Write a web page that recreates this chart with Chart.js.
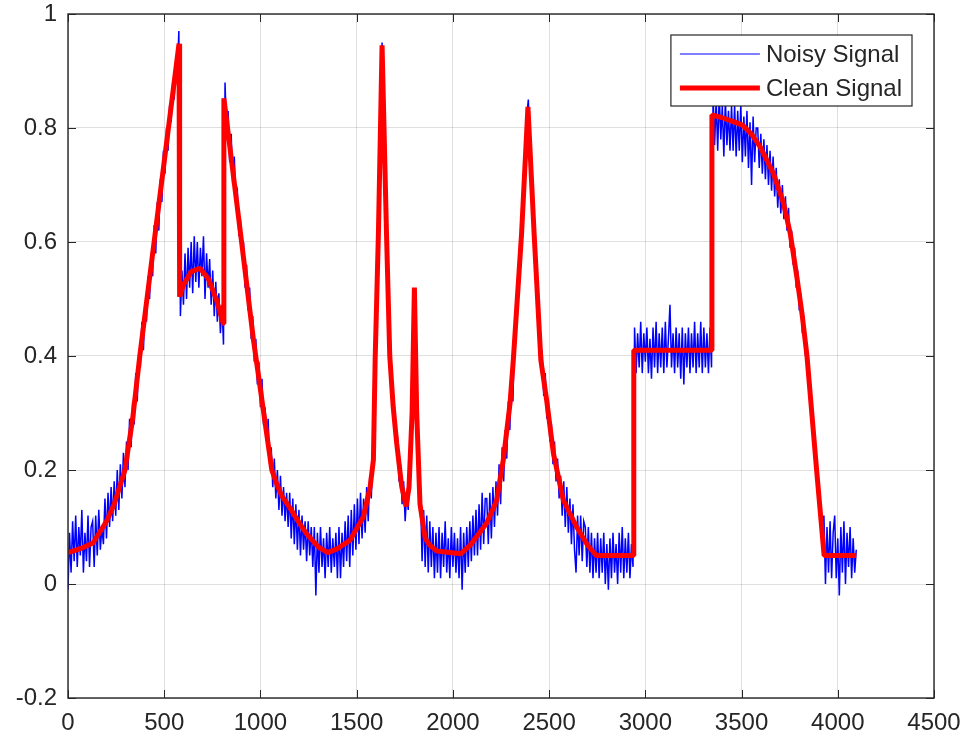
<!DOCTYPE html>
<html>
<head>
<meta charset="utf-8">
<title>Noisy vs Clean Signal</title>
<script src="https://cdn.jsdelivr.net/npm/chart.js@4/dist/chart.umd.min.js"></script>
<style>
  html, body { margin: 0; padding: 0; background: #fff; }
  #wrap { width: 967px; height: 741px; }
</style>
</head>
<body>
<div id="wrap"><canvas id="myChart" width="967" height="741"></canvas></div>
<script>
/* tick labels */
const xTickValues = [0, 500, 1000, 1500, 2000, 2500, 3000, 3500, 4000, 4500];
const yTickValues = [-0.2, 0, 0.2, 0.4, 0.6, 0.8, 1];

/* clean signal, knots */
const cleanX = [0, 64, 130, 200, 240, 296, 336, 373, 577, 580, 600, 640, 686, 730, 770, 807, 810,
  902, 963, 1015, 1059, 1085, 1110, 1154, 1200, 1240, 1300, 1350, 1400, 1466, 1535, 1570, 1587, 1596, 1613,
  1632, 1655, 1672, 1690, 1708, 1734, 1757, 1772, 1788, 1800, 1812, 1829, 1856, 1880, 1916, 2040, 2090,
  2176, 2228, 2262, 2297, 2314, 2357, 2390, 2422, 2457, 2487, 2522, 2574, 2643, 2700, 2745, 2938,
  2940, 3342, 3346, 3400, 3450, 3505, 3550, 3597, 3666, 3718, 3753, 3788, 3815, 3840, 3890, 3929, 4096];
const cleanY = [0.055, 0.062, 0.072, 0.11, 0.14, 0.20, 0.29, 0.40, 0.948, 0.504, 0.525, 0.548, 0.554, 0.535, 0.50, 0.457, 0.852,
  0.60, 0.43, 0.305, 0.20, 0.175, 0.155, 0.133, 0.108, 0.088, 0.065, 0.055, 0.062, 0.077, 0.118, 0.17, 0.218, 0.393, 0.615,
  0.945, 0.615, 0.40, 0.31, 0.247, 0.171, 0.136, 0.17, 0.30, 0.52, 0.30, 0.14, 0.08, 0.068, 0.058, 0.053, 0.068,
  0.107, 0.147, 0.218, 0.317, 0.393, 0.615, 0.837, 0.615, 0.393, 0.323, 0.23, 0.147, 0.10, 0.068, 0.05, 0.05,
  0.41, 0.41, 0.823, 0.818, 0.812, 0.805, 0.79, 0.767, 0.72, 0.668, 0.615, 0.537, 0.472, 0.40, 0.20, 0.05, 0.05];

/* noisy signal, one value every 8 samples (16 per row = 128 samples) */
const noisyStep = 8;
const noisyY = [
  -0.01, 0.09, 0.02, 0.11, 0.04, 0.12, 0.03, 0.10, 0.05, 0.13, 0.02, 0.09, 0.04, 0.12, 0.03, 0.10,
  0.11, 0.03, 0.12, 0.05, 0.13, 0.06, 0.10, 0.07, 0.15, 0.08, 0.16, 0.10, 0.17, 0.11, 0.18, 0.12,
  0.20, 0.13, 0.21, 0.15, 0.23, 0.17, 0.25, 0.20, 0.29, 0.24, 0.32, 0.28, 0.37, 0.32, 0.41, 0.38,
  0.46, 0.41, 0.49, 0.46, 0.54, 0.50, 0.58, 0.54, 0.63, 0.58, 0.67, 0.62, 0.71, 0.67, 0.76, 0.72,
  0.80, 0.76, 0.84, 0.81, 0.88, 0.85, 0.92, 0.89, 0.97, 0.47, 0.55, 0.49, 0.58, 0.50, 0.59, 0.52,
  0.60, 0.51, 0.61, 0.53, 0.60, 0.52, 0.59, 0.54, 0.61, 0.50, 0.58, 0.52, 0.57, 0.49, 0.55, 0.47,
  0.53, 0.46, 0.51, 0.44, 0.49, 0.42, 0.88, 0.79, 0.83, 0.74, 0.79, 0.70, 0.75, 0.68, 0.69, 0.61,
  0.64, 0.58, 0.60, 0.52, 0.56, 0.48, 0.52, 0.43, 0.47, 0.39, 0.43, 0.35, 0.39, 0.31, 0.36, 0.28,
  0.31, 0.25, 0.29, 0.21, 0.24, 0.17, 0.22, 0.15, 0.20, 0.13, 0.19, 0.12, 0.17, 0.11, 0.16, 0.10,
  0.16, 0.08, 0.15, 0.07, 0.14, 0.06, 0.13, 0.05, 0.12, 0.06, 0.11, 0.04, 0.11, 0.05, 0.10, 0.03,
  0.10, -0.02, 0.09, 0.02, 0.10, 0.03, 0.08, 0.01, 0.09, 0.03, 0.10, 0.02, 0.08, 0.03, 0.09, 0.01,
  0.10, 0.01, 0.09, 0.03, 0.11, 0.04, 0.12, 0.03, 0.13, 0.05, 0.14, 0.06, 0.15, 0.07, 0.16, 0.08,
  0.15, 0.09, 0.17, 0.11, 0.19, 0.15, 0.23, 0.30, 0.45, 0.53, 0.67, 0.80, 0.95, 0.79, 0.71, 0.58,
  0.52, 0.39, 0.38, 0.30, 0.31, 0.24, 0.26, 0.18, 0.21, 0.14, 0.18, 0.11, 0.16, 0.13, 0.21, 0.26,
  0.38, 0.51, 0.36, 0.26, 0.16, 0.15, 0.04, 0.13, 0.03, 0.12, 0.02, 0.11, 0.03, 0.10, 0.01, 0.09,
  0.02, 0.10, 0.01, 0.09, 0.03, 0.11, 0.02, 0.08, 0.01, 0.10, 0.03, 0.09, 0.02, 0.08, 0.01, 0.10,
  -0.01, 0.09, 0.02, 0.10, 0.03, 0.11, 0.04, 0.12, 0.05, 0.13, 0.05, 0.14, 0.06, 0.16, 0.07, 0.15,
  0.15, 0.07, 0.16, 0.08, 0.17, 0.10, 0.18, 0.12, 0.21, 0.14, 0.24, 0.18, 0.27, 0.22, 0.32, 0.27,
  0.37, 0.32, 0.44, 0.43, 0.52, 0.52, 0.61, 0.62, 0.71, 0.73, 0.82, 0.85, 0.76, 0.73, 0.65, 0.60,
  0.57, 0.50, 0.48, 0.38, 0.41, 0.33, 0.37, 0.29, 0.32, 0.25, 0.28, 0.21, 0.25, 0.18, 0.22, 0.15,
  0.19, 0.12, 0.18, 0.10, 0.17, 0.09, 0.15, 0.07, 0.14, 0.06, 0.02, 0.12, 0.05, 0.12, 0.04, 0.11,
  0.10, 0.03, 0.10, 0.02, 0.09, 0.01, 0.08, 0.02, 0.09, 0.01, 0.08, 0.02, 0.09, 0.00, 0.07, -0.01,
  0.08, 0.01, 0.09, 0.02, 0.07, 0.00, 0.09, 0.02, 0.10, 0.01, 0.08, 0.02, 0.09, 0.01, 0.07, 0.03,
  0.45, 0.37, 0.44, 0.38, 0.46, 0.37, 0.44, 0.39, 0.45, 0.37, 0.43, 0.36, 0.45, 0.38, 0.46, 0.37,
  0.44, 0.38, 0.45, 0.37, 0.46, 0.38, 0.43, 0.49, 0.38, 0.44, 0.37, 0.45, 0.38, 0.44, 0.36, 0.45,
  0.35, 0.44, 0.38, 0.45, 0.37, 0.44, 0.38, 0.46, 0.37, 0.44, 0.38, 0.46, 0.37, 0.45, 0.38, 0.44,
  0.37, 0.45, 0.38, 0.86, 0.77, 0.85, 0.76, 0.86, 0.78, 0.84, 0.75, 0.85, 0.77, 0.83, 0.76, 0.84,
  0.76, 0.84, 0.75, 0.83, 0.76, 0.84, 0.74, 0.82, 0.75, 0.83, 0.73, 0.81, 0.70, 0.82, 0.74, 0.80,
  0.80, 0.73, 0.79, 0.72, 0.78, 0.71, 0.77, 0.70, 0.76, 0.69, 0.75, 0.68, 0.73, 0.66, 0.71, 0.65,
  0.70, 0.64, 0.68, 0.62, 0.66, 0.59, 0.62, 0.56, 0.59, 0.52, 0.55, 0.48, 0.51, 0.44, 0.47, 0.40,
  0.42, 0.35, 0.35, 0.29, 0.29, 0.22, 0.22, 0.16, 0.16, 0.10, 0.10, 0.12, 0.00, 0.10, 0.02, 0.11,
  0.01, 0.09, 0.12, 0.01, 0.08, -0.02, 0.10, 0.02, 0.11, 0.00, 0.09, 0.03, 0.10, 0.01, 0.08, 0.02,
  0.06
];

const FONT = '"Liberation Sans", Arial, Helvetica, sans-serif';
const TEXT = '#262626';

/* box, inward ticks and legend like a matlab axes */
const matlabFrame = {
  id: 'matlabFrame',
  afterDraw: function(chart) {
    const ctx = chart.ctx;
    const a = chart.chartArea;
    const sx = chart.scales.x;
    const sy = chart.scales.y;
    const tick = 8;

    ctx.save();
    ctx.strokeStyle = TEXT;
    ctx.lineWidth = 1.4;
    ctx.strokeRect(a.left, a.top, a.right - a.left, a.bottom - a.top);

    ctx.beginPath();
    sx.ticks.forEach(function(t) {
      const px = Math.round(sx.getPixelForValue(t.value)) + 0.5;
      ctx.moveTo(px, a.bottom); ctx.lineTo(px, a.bottom - tick);
      ctx.moveTo(px, a.top); ctx.lineTo(px, a.top + tick);
    });
    sy.ticks.forEach(function(t) {
      const py = Math.round(sy.getPixelForValue(t.value)) + 0.5;
      ctx.moveTo(a.left, py); ctx.lineTo(a.left + tick, py);
      ctx.moveTo(a.right, py); ctx.lineTo(a.right - tick, py);
    });
    ctx.lineWidth = 1;
    ctx.stroke();

    // legend
    ctx.font = '24px ' + FONT;
    const sets = chart.data.datasets;
    let textW = 0;
    sets.forEach(function(ds) { textW = Math.max(textW, ctx.measureText(ds.label).width); });
    const sample = 80;
    const boxW = 9 + sample + 6 + textW + 10;
    const boxH = 71;
    const bx = a.right - 22 - boxW;
    const by = a.top + 21;
    ctx.fillStyle = '#fff';
    ctx.fillRect(bx, by, boxW, boxH);
    ctx.strokeStyle = TEXT;
    ctx.lineWidth = 1.2;
    ctx.strokeRect(bx, by, boxW, boxH);

    const rows = [19, 53];
    const order = [1, 0];
    order.forEach(function(idx, r) {
      const ds = sets[idx];
      const ly = by + rows[r];
      ctx.beginPath();
      ctx.strokeStyle = ds.borderColor;
      ctx.lineWidth = idx === 0 ? ds.borderWidth : 1.2;
      ctx.moveTo(bx + 9, ly);
      ctx.lineTo(bx + 9 + sample, ly);
      ctx.stroke();
      ctx.fillStyle = TEXT;
      ctx.textBaseline = 'middle';
      ctx.textAlign = 'left';
      ctx.fillText(ds.label, bx + 9 + sample + 6, ly + 1);
    });
    ctx.restore();
  }
};

function makeChart() {
  const ctx = document.getElementById('myChart').getContext('2d');

  const cleanPts = cleanX.map(function(x, i) { return { x: x, y: cleanY[i] }; });
  const noisyPts = noisyY.map(function(y, i) { return { x: i * noisyStep, y: y }; });

  return new Chart(ctx, {
    type: 'line',
    data: {
      datasets: [{
        label: 'Clean Signal',
        data: cleanPts,
        borderColor: '#ff0000',
        borderWidth: 5,
        borderJoinStyle: 'bevel',
        pointRadius: 0,
        tension: 0,
        order: 1
      },
      {
        label: 'Noisy Signal',
        data: noisyPts,
        borderColor: '#0000ff',
        borderWidth: 1.5,
        pointRadius: 0,
        tension: 0,
        order: 2
      }]
    },
    options: {
      responsive: false,
      animation: false,
      layout: { padding: { top: 14, right: 33, left: 0, bottom: 0 } },
      plugins: { legend: { display: false }, tooltip: { enabled: false } },
      scales: {
        x: {
          type: 'linear',
          min: 0,
          max: 4500,
          afterBuildTicks: function(axis) { axis.ticks = xTickValues.map(function(v) { return { value: v }; }); },
          afterFit: function(axis) {
            axis.height = 43;
            axis.paddingLeft = 0; axis.paddingRight = 0;
          },
          border: { display: false },
          grid: { color: 'rgba(38,38,38,0.15)', lineWidth: 1, drawTicks: false },
          ticks: {
            autoSkip: false, maxRotation: 0, padding: 11, color: TEXT,
            font: { family: FONT, size: 24 },
            callback: function(v) { return String(v); }
          }
        },
        y: {
          min: -0.2,
          max: 1,
          afterBuildTicks: function(axis) { axis.ticks = yTickValues.map(function(v) { return { value: v }; }); },
          afterFit: function(axis) {
            axis.width = 68;
            axis.paddingTop = 0; axis.paddingBottom = 0;
          },
          border: { display: false },
          grid: { color: 'rgba(38,38,38,0.15)', lineWidth: 1, drawTicks: false },
          ticks: {
            padding: 11, color: TEXT,
            font: { family: FONT, size: 24 },
            callback: function(v) { return String(v); }
          }
        }
      }
    },
    plugins: [matlabFrame]
  });
}

makeChart();
</script>
</body>
</html>
